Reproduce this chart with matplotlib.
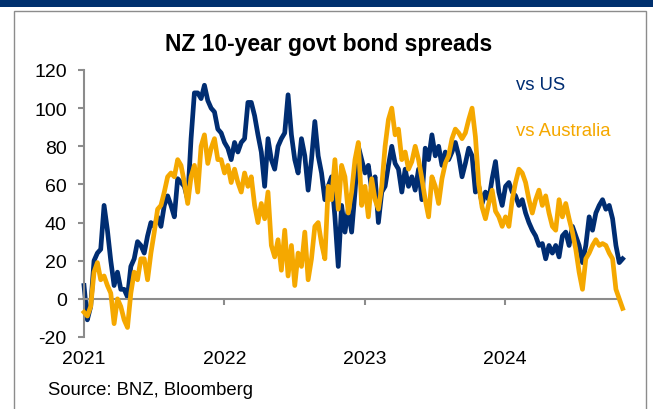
import numpy as np
import pandas as pd
import matplotlib
matplotlib.use("Agg")
import matplotlib.pyplot as plt
from matplotlib.patches import Rectangle

plt.rcParams['font.family'] = ['Liberation Sans', 'DejaVu Sans']
plt.rcParams['axes.unicode_minus'] = False

# spreads in bp, read roughly every 9 days from Jan 2021 to end Oct 2024
vs_us = [7, -11, -4, 20, 24, 26, 49, 36, 20, 7, 14, 5, 5, 1, 17, 21, 30, 28, 24, 33,
         40, 38, 43, 38, 49, 54, 49, 43, 63, 61,
         59, 52, 84, 108, 108, 105, 112, 104, 100, 98, 89, 87, 82, 79, 73, 82, 77, 82,
         84, 103, 103, 96, 86, 77, 59, 84, 73, 68, 80, 84, 87, 107,
         86, 73, 66, 84, 75, 57, 73, 93, 75, 66, 52, 59, 64, 43, 17, 49, 35, 47, 35, 56,
         80, 73, 66, 70, 57, 64, 40, 56, 59, 70, 80, 71,
         68, 56, 68, 59, 64, 57, 68, 52, 79, 73, 86, 75, 80, 70, 77, 73, 77, 82, 75, 64,
         71, 79, 75, 56, 59, 50, 56, 52, 63, 72, 56, 49,
         59, 61, 56, 54, 49, 52, 45, 40, 36, 33, 28, 29, 21, 28, 24, 28, 22, 33, 35, 28,
         38, 33, 28, 19, 28, 43, 36, 45, 49, 52, 47, 49, 42, 28, 19, 21]

vs_aus = [-7, -9, -4, 14, 19, 10, 12, 7, 3, -13, 0, -4, -11, -15, 3, 14, 10, 21, 21, 10,
          24, 35, 47, 49, 56, 64, 66, 64, 73, 70,
          61, 50, 64, 70, 56, 80, 86, 71, 79, 84, 73, 73, 66, 70, 61, 68, 61, 56, 66, 59,
          64, 49, 40, 50, 42, 56, 28, 22, 31, 15, 36, 12,
          28, 7, 24, 17, 35, 10, 21, 38, 40, 29, 21, 59, 52, 73, 47, 70, 64, 45, 56, 73,
          82, 49, 59, 43, 63, 52, 47, 59, 80, 94, 100, 86,
          89, 73, 77, 68, 72, 80, 73, 63, 52, 43, 64, 59, 50, 63, 71, 75, 84, 89, 87, 84,
          87, 94, 100, 85, 60, 48, 42, 50, 57, 46, 43, 38,
          43, 38, 52, 61, 68, 66, 61, 52, 45, 52, 57, 49, 54, 45, 38, 36, 52, 43, 50, 42,
          35, 26, 14, 5, 21, 24, 28, 31, 28, 29, 28, 24, 21, 5, 0, -5]

dates = pd.date_range("2021-01-01", "2024-11-01", periods=len(vs_us))
year_ticks = ["2021", "2022", "2023", "2024"]
y_ticks = [-20, 0, 20, 40, 60, 80, 100, 120]

navy = "#002D72"
gold = "#F5A800"
grey = "#8C8C8C"

fig = plt.figure(figsize=(6.53, 4.10), dpi=100)
W, H = 653, 410

# top banner and frame
fig.add_artist(Rectangle((0, 1 - 8 / H), 1, 8 / H, transform=fig.transFigure,
                         color="#00306E", lw=0))
fig.add_artist(Rectangle((14 / W, -0.01), 632 / W, 1.01 - 12 / H, transform=fig.transFigure,
                         fill=False, ec=grey, lw=1))

ax = fig.add_axes([84 / W, 1 - 338 / H, (618 - 84) / W, (338 - 71) / H])
ax.plot(dates, vs_us, color=navy, lw=3.4, clip_on=False, zorder=2)
ax.plot(dates, vs_aus, color=gold, lw=3.4, clip_on=False, zorder=3)

ax.set_ylim(-20, 120)
ax.set_yticks(y_ticks)
ax.set_xlim(pd.Timestamp("2021-01-01"), pd.Timestamp("2024-10-20"))
ax.set_xticks([pd.Timestamp(y + "-01-01") for y in year_ticks])
ax.set_xticklabels(year_ticks)

for s in ["top", "right"]:
    ax.spines[s].set_visible(False)
ax.spines["bottom"].set_position(("data", 0))
ax.spines["bottom"].set_color(grey)
ax.spines["left"].set_color(grey)
ax.spines["bottom"].set_linewidth(1.5)
ax.spines["left"].set_linewidth(1.5)
ax.tick_params(axis="y", length=4.5, width=1.5, color=grey, pad=8, labelsize=14)
ax.tick_params(axis="x", length=4.5, width=1.5, color=grey, pad=32, labelsize=14)

fig.text(329 / W, 1 - 45 / H, "NZ 10-year govt bond spreads", ha="center", va="center",
         fontsize=16.5, fontweight="bold")
fig.text(516 / W, 1 - 85 / H, "vs US", color=navy, fontsize=13.3, va="center")
fig.text(516 / W, 1 - 131 / H, "vs Australia", color=gold, fontsize=13.3, va="center")
fig.text(48 / W, 1 - 391 / H, "Source: BNZ, Bloomberg", fontsize=13.3, va="center")

fig.savefig("out.png", dpi=100)
